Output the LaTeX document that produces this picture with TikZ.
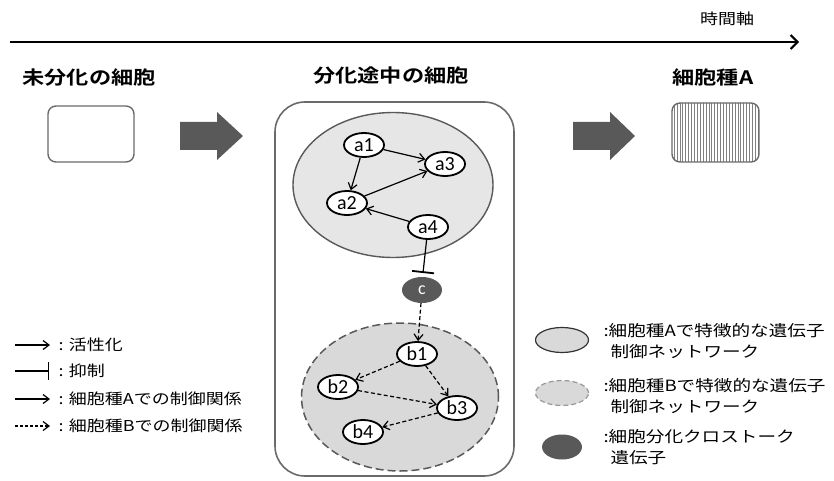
\documentclass[tikz,border=0pt]{standalone}
\usepackage{fontspec}
\setmainfont{Noto Sans CJK JP}[BoldFont={Noto Sans CJK JP Bold}]
\newfontfamily\jpw{Noto Sans CJK JP}[FakeStretch=1.2, BoldFont={Noto Sans CJK JP Bold}]
\newfontfamily\lat{Carlito}
\usetikzlibrary{arrows.meta,shapes.geometric}
\definecolor{dk}{HTML}{595959}
\definecolor{bord}{HTML}{6A6A6A}
\definecolor{lgA}{HTML}{E6E6E6}
\definecolor{lgB}{HTML}{D9D9D9}
\tikzset{
  gene/.style={ellipse, draw=black, line width=1.8pt, fill=white, minimum width=40pt, minimum height=24pt, inner sep=0pt, font=\lat\fontsize{20}{20}\selectfont},
  act/.style={line width=1.2pt, -{Straight Barb[length=6pt,width=9pt]}},
  actB/.style={act, dash pattern=on 4pt off 2.5pt},
  title/.style={font=\jpw\fontsize{18.5}{18.5}\selectfont\bfseries},
  legtxt/.style={font=\jpw\fontsize{15}{17}\selectfont, anchor=west, align=left},
  rtxt/.style={font=\jpw\fontsize{15.5}{21}\selectfont, anchor=west, align=left},
  bigarrow/.style={fill=dk, draw=none}
}
\begin{document}
\begin{tikzpicture}[x=1pt,y=-1pt]
\useasboundingbox (0,0) rectangle (834,481);
% time axis
\coordinate (t0) at (10,42);
\coordinate (t1) at (799,42);
\draw[line width=2.6pt, -{Straight Barb[length=7pt,width=14pt,line width=2pt]}] (t0) -- (t1);
\node[font=\jpw\fontsize{15}{15}\selectfont] (tlabel) at (727,19) {時間軸};
% titles
\node[title] (tt1) at (89,78) {未分化の細胞};
\node[title] (tt2) at (391,76) {分化途中の細胞};
\node[title] (tt3) at (713,77) {細胞種A};
% undifferentiated box
\node[draw=bord, line width=1.4pt, rounded corners=8pt, minimum width=86pt, minimum height=56pt] (undiff) at (91,134) {};
% big arrows
\path[bigarrow] (180,122) -- (217,122) -- (217,112) -- (243,136) -- (217,160) -- (217,150) -- (180,150) -- cycle;
\path[bigarrow] (573,122) -- (610,122) -- (610,112) -- (635,136) -- (610,160) -- (610,150) -- (573,150) -- cycle;
% cell A box with stripes
\begin{scope}
\clip[rounded corners=8pt] (672,103) rectangle (759,162);
\foreach \i in {0,...,29} { \draw[gray, line width=0.6pt] (674+\i*2.9,100) -- (674+\i*2.9,165); }
\end{scope}
\node[draw=bord, line width=1.4pt, rounded corners=8pt, minimum width=87pt, minimum height=59pt] (cellA) at (715.5,132.5) {};
% middle cell
\node[draw=bord, line width=1.6pt, rounded corners=30pt, minimum width=239pt, minimum height=374pt] (mid) at (394.5,289) {};
% network A
\node[ellipse, draw=dk, line width=1.4pt, fill=lgA, minimum width=200pt, minimum height=145pt] (netA) at (393,185) {};
\node[gene] (a1) at (364,145) {a1};
\node[gene] (a3) at (445,164) {a3};
\node[gene] (a2) at (347,203) {a2};
\node[gene] (a4) at (428,227) {a4};
\draw[act] (a1) -- (a3);
\draw[act] (a1) -- (a2);
\draw[act] (a2) -- (a3);
\draw[act] (a4) -- (a2);
% network B
\node[ellipse, draw=dk, line width=1.5pt, dash pattern=on 8pt off 4pt, fill=lgB, minimum width=197pt, minimum height=148pt] (netB) at (400,397) {};
\node[gene] (b1) at (417,354) {b1};
\node[gene] (b2) at (338,387) {b2};
\node[gene] (b3) at (457,408) {b3};
\node[gene] (b4) at (363,432) {b4};
\draw[actB] (b1) -- (b2);
\draw[actB] (b1) -- (b3);
\draw[actB] (b2) -- (b3);
\draw[actB] (b3) -- (b4);
% crosstalk gene
\node[ellipse, fill=dk, minimum width=40pt, minimum height=26pt, inner sep=0pt, text=white, font=\lat\fontsize{18}{18}\selectfont] (c) at (422,290) {c};
\coordinate (inh) at (423,273);
\draw[line width=1.2pt, -{Bar[width=22pt,line width=1.8pt]}] (a4) -- (inh);
\draw[actB] (c) -- (b1);
% left legend
\coordinate (l1a) at (15,345); \coordinate (l1b) at (50,345);
\coordinate (l2a) at (15,371); \coordinate (l2b) at (49,371);
\coordinate (l3a) at (15,399); \coordinate (l3b) at (50,399);
\coordinate (l4a) at (15,426); \coordinate (l4b) at (50,426);
\draw[act] (l1a) -- (l1b);
\draw[line width=1.2pt, -{Bar[width=18pt,line width=1.2pt]}] (l2a) -- (l2b);
\draw[act] (l3a) -- (l3b);
\draw[actB, dash pattern=on 3pt off 2pt] (l4a) -- (l4b);
\node[legtxt] (lt1) at (55,345) {: 活性化};
\node[legtxt] (lt2) at (55,371) {: 抑制};
\node[legtxt] (lt3) at (55,399) {: 細胞種Aでの制御関係};
\node[legtxt] (lt4) at (55,426) {: 細胞種Bでの制御関係};
% right legend
\node[ellipse, draw=black!80, line width=1.2pt, fill=lgB, minimum width=53pt, minimum height=25pt] (le1) at (562,340) {};
\node[ellipse, draw=black!40, line width=1.2pt, dash pattern=on 5pt off 3pt, fill=lgB, minimum width=53pt, minimum height=25pt] (le2) at (562,393) {};
\node[ellipse, fill=dk, minimum width=40pt, minimum height=25pt] (le3) at (562,447) {};
\node[rtxt] (rt1) at (600,341) {:細胞種Aで特徴的な遺伝子\\\hspace{7pt}制御ネットワーク};
\node[rtxt] (rt2) at (600,396) {:細胞種Bで特徴的な遺伝子\\\hspace{7pt}制御ネットワーク};
\node[rtxt] (rt3) at (600,447) {:細胞分化クロストーク\\\hspace{7pt}遺伝子};
\end{tikzpicture}
\end{document}
